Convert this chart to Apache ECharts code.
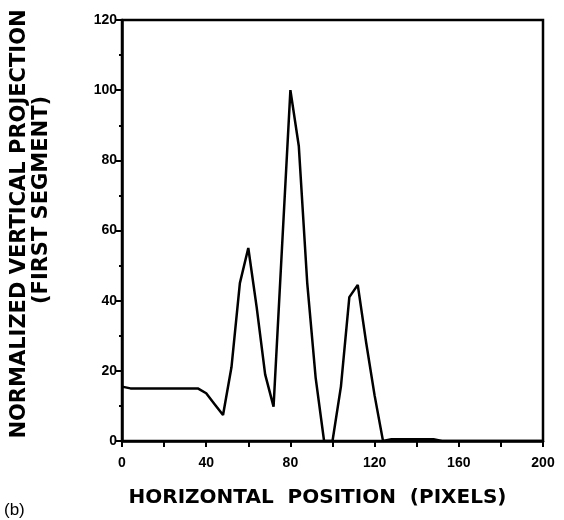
<!DOCTYPE html>
<html>
<head>
<meta charset="utf-8">
<script src="https://cdn.jsdelivr.net/npm/echarts@6/dist/echarts.min.js"></script>
<style>
html,body{margin:0;padding:0;background:#fff;}
#c{width:564px;height:520px;}
</style>
</head>
<body>
<div id="c"></div>
<script>
var xPositions = [0, 4, 8, 12, 16, 20, 24, 28, 32, 36, 40, 44, 48, 52, 56, 60, 64, 68, 72, 76, 80, 84, 88, 92, 96, 100, 104, 108, 112, 116, 120, 124, 128, 132, 136, 140, 144, 148, 152, 200];
var projection = [15.5, 15, 15, 15, 15, 15, 15, 15, 15, 15, 13.6, 10.5, 7.4, 21, 45, 55, 38, 19, 9.8, 55, 100, 84, 45, 18, 0, 0, 15.5, 41, 44.5, 28, 13, 0, 0.5, 0.5, 0.5, 0.5, 0.5, 0.5, 0, 0];
var xTickLabels = [0, 40, 80, 120, 160, 200];
var yTickLabels = [0, 20, 40, 60, 80, 100, 120];
var yTitleLines = ['NORMALIZED VERTICAL PROJECTION', '(FIRST SEGMENT)'];

var seriesData = xPositions.map(function (x, i) { return [x, projection[i]]; });

var chart = echarts.init(document.getElementById('c'), null, {renderer: 'canvas'});
var tickFont = {color: '#000', fontFamily: 'Liberation Sans', fontWeight: 'bold', fontSize: 14};
var nameFont = 'bold 21px "DejaVu Sans"';
chart.setOption({
  animation: false,
  backgroundColor: '#fff',
  grid: {left: 122, top: 20, right: 21, bottom: 79, show: true, borderColor: '#000', borderWidth: 2.5, backgroundColor: 'transparent', outerBoundsMode: 'none', containLabel: false},
  xAxis: {
    type: 'value', min: 0, max: 200, interval: 20,
    name: 'HORIZONTAL  POSITION  (PIXELS)',
    nameLocation: 'middle', nameGap: 47,
    nameTextStyle: {color: '#000', fontFamily: 'DejaVu Sans', fontWeight: 'bold', fontSize: 20, padding: [0, 30, 0, 0]},
    axisLine: {show: true, lineStyle: {color: '#000', width: 2.5}},
    axisTick: {show: true, length: 6, lineStyle: {color: '#000', width: 2}},
    splitLine: {show: false},
    axisLabel: Object.assign({margin: 15, formatter: function (v) { return xTickLabels.indexOf(v) >= 0 ? String(v) : ''; }}, tickFont)
  },
  yAxis: {
    type: 'value', min: 0, max: 120, interval: 20,
    axisLine: {show: true, lineStyle: {color: '#000', width: 2.5}},
    axisTick: {show: true, length: 7, lineStyle: {color: '#000', width: 2}},
    minorTick: {show: true, splitNumber: 2, length: 3, lineStyle: {color: '#000', width: 2}},
    splitLine: {show: false},
    axisLabel: Object.assign({margin: 5, formatter: function (v) { return yTickLabels.indexOf(v) >= 0 ? String(v) : ''; }}, tickFont)
  },
  graphic: [{
    type: 'text', x: 20, y: 224, rotation: Math.PI / 2,
    style: {text: yTitleLines[0], fill: '#000', font: nameFont, textAlign: 'center', textVerticalAlign: 'middle'}
  }, {
    type: 'text', x: 42, y: 200, rotation: Math.PI / 2,
    style: {text: yTitleLines[1], fill: '#000', font: nameFont, textAlign: 'center', textVerticalAlign: 'middle'}
  }, {
    type: 'text', left: 4, top: 502,
    style: {text: '(b)', fill: '#000', font: '17px "Liberation Sans"'}
  }],
  series: [{
    type: 'line', data: seriesData, showSymbol: false, symbol: 'none',
    lineStyle: {color: '#000', width: 2.5}, z: 3
  }]
});
</script>
</body>
</html>
